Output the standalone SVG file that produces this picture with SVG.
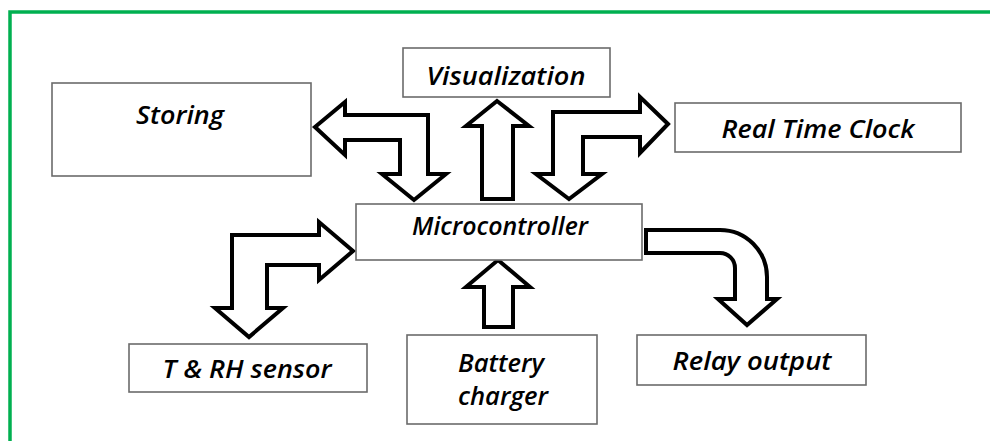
<svg xmlns="http://www.w3.org/2000/svg" width="990" height="441" viewBox="0 0 990 441">
<style>
.box{fill:#fff;stroke:#6b6b6b;stroke-width:1.6}
.arr{fill:#fff;stroke:#000;stroke-width:4;stroke-linejoin:miter}
.lbl{font-family:"Open Sans","Noto Sans",sans-serif;font-style:italic;font-weight:600;font-size:26px;fill:#000;text-anchor:middle}
</style>
<rect width="990" height="441" fill="#fff"/>
<g id="frame"><path d="M10,441 L10,12 L990,12" fill="none" stroke="#00b050" stroke-width="3.5"/></g>
<g id="connectors">
<polygon class="arr" points="315,127 345,102 345,115 428,115 428,174 446,174 414,200 382,174 400,174 400,140 345,140 345,155"/>
<polygon class="arr" points="497,101 529,126 513,126 513,199 482,199 482,126 466,126"/>
<polygon class="arr" points="668,124 640,97 640,112 553,112 553,174 536,174 569,199 602,174 583,174 583,137 640,137 640,153"/>
<polygon class="arr" points="353,251 319,222 319,235 232,235 232,308 215,308 249,337 283,308 267,308 267,265 319,265 319,280"/>
<polygon class="arr" points="498,260 530,287 513,287 513,327 484,327 484,287 466,287"/>
<path class="arr" d="M646,230 L720,230 A47,47 0 0 1 767,277 L767,299 L777,299 L747,325 L718,299 L735,299 L735,268 A15,15 0 0 0 720,253 L646,253 Z"/>
</g>
<g id="storing"><rect class="box" x="52" y="83" width="259" height="93"/><text class="lbl" x="180" y="124" textLength="88" lengthAdjust="spacingAndGlyphs">Storing</text></g>
<g id="visualization"><rect class="box" x="403" y="48" width="207" height="49"/><text class="lbl" x="506" y="85" textLength="159" lengthAdjust="spacingAndGlyphs">Visualization</text></g>
<g id="rtc"><rect class="box" x="675" y="103" width="286" height="49"/><text class="lbl" x="818" y="138" textLength="193" lengthAdjust="spacingAndGlyphs">Real Time Clock</text></g>
<g id="microcontroller"><rect class="box" x="356" y="204" width="286" height="56"/><text class="lbl" x="500" y="235" textLength="176" lengthAdjust="spacingAndGlyphs">Microcontroller</text></g>
<g id="sensor"><rect class="box" x="129" y="344" width="238" height="48"/><text class="lbl" x="247" y="378" textLength="169" lengthAdjust="spacingAndGlyphs">T &amp; RH sensor</text></g>
<g id="battery"><rect class="box" x="407" y="335" width="190" height="89"/><text class="lbl" x="501" y="372" textLength="86" lengthAdjust="spacingAndGlyphs">Battery</text><text class="lbl" x="503" y="405" textLength="90" lengthAdjust="spacingAndGlyphs">charger</text></g>
<g id="relay"><rect class="box" x="637" y="335" width="229" height="50"/><text class="lbl" x="752" y="370" textLength="159" lengthAdjust="spacingAndGlyphs">Relay output</text></g>
</svg>
